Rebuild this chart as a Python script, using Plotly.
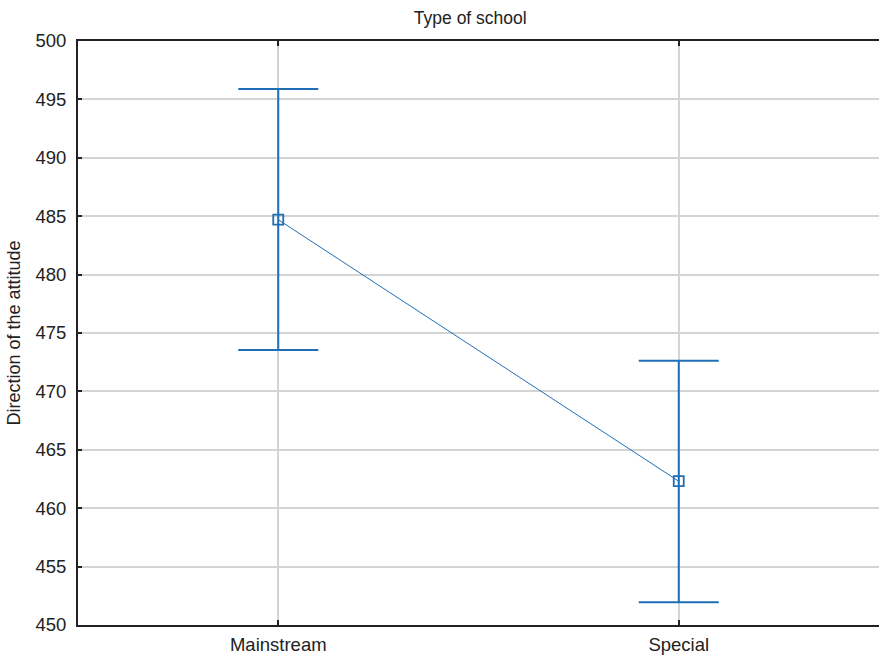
import plotly.graph_objects as go

# Mean direction of attitude by type of school, with confidence limits
schools = ["Mainstream", "Special"]
means = [484.70, 462.31]
upper = [495.88, 472.62]
lower = [473.54, 451.94]

err_plus = [u - m for u, m in zip(upper, means)]
err_minus = [m - l for m, l in zip(means, lower)]

blue = "#1f6fb6"

fig = go.Figure()
fig.add_trace(go.Scatter(
    x=schools,
    y=means,
    mode="lines+markers",
    line=dict(color=blue, width=1),
    marker=dict(symbol="square-open", size=10, color=blue, line=dict(width=1.8, color=blue)),
    error_y=dict(type="data", symmetric=False, array=err_plus, arrayminus=err_minus,
                 color=blue, thickness=2, width=40),
    showlegend=False,
    hoverinfo="skip",
))

font_family = "Liberation Sans, Arial, sans-serif"

fig.update_layout(
    width=879, height=655,
    margin=dict(l=78, r=0, t=41, b=30),
    paper_bgcolor="white",
    plot_bgcolor="white",
    font=dict(family=font_family, color="#222222"),
    title=dict(text="Type of school", x=0.535, xanchor="center", y=0.972, yanchor="middle",
               font=dict(size=17.5, family=font_family, color="#222222")),
    xaxis=dict(
        type="category",
        range=[-0.5, 1.5],
        showline=True, linecolor="#222222", linewidth=2, mirror="ticks",
        ticks="inside", ticklen=5, tickwidth=1.5, tickcolor="#222222",
        showgrid=True, gridcolor="#d4d4d4", gridwidth=1.5,
        tickfont=dict(size=18.5, family=font_family, color="#222222"),
        ticklabelstandoff=2,
        zeroline=False,
    ),
    yaxis=dict(
        range=[450, 500],
        dtick=5,
        showline=True, linecolor="#222222", linewidth=2,
        ticks="inside", ticklen=4, tickwidth=1.5, tickcolor="#222222",
        showgrid=True, gridcolor="#d4d4d4", gridwidth=1.5,
        tickfont=dict(size=18.5, family=font_family, color="#222222"),
        ticklabelstandoff=6,
        title=dict(text="Direction of the attitude", standoff=10,
                   font=dict(size=18, family=font_family, color="#222222")),
        zeroline=False,
    ),
)

fig.write_html("out.html")
